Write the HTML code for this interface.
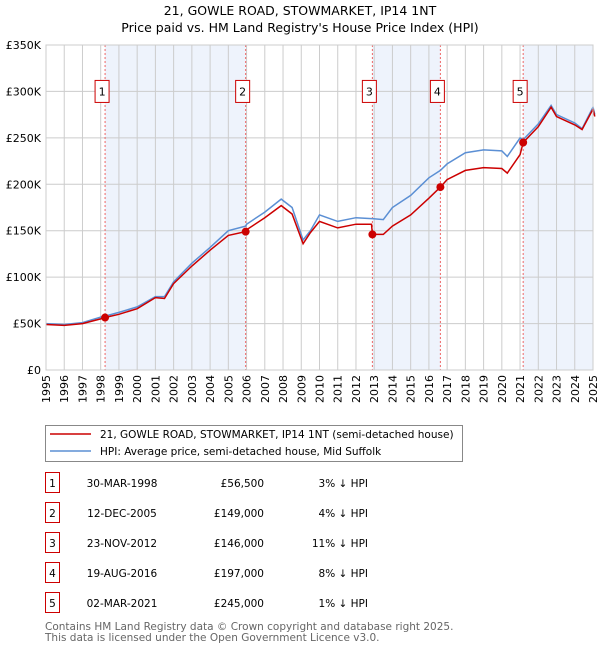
<!DOCTYPE html>
<html><head><meta charset="utf-8"><style>
body{margin:0;background:#fff;font-family:"Liberation Sans","DejaVu Sans",sans-serif;}
svg text{font-family:"DejaVu Sans","Liberation Sans",sans-serif;}
</style></head><body>
<svg width="600" height="650" xmlns="http://www.w3.org/2000/svg">
<text x="300" y="15" text-anchor="middle" font-size="12.5">21, GOWLE ROAD, STOWMARKET, IP14 1NT</text>
<text x="300" y="32" text-anchor="middle" font-size="12.5">Price paid vs. HM Land Registry's House Price Index (HPI)</text>
<g id="plot"></g>
<g>
<rect x="45.5" y="425.5" width="417" height="36" fill="#fff" stroke="#888"/>
<line x1="50" y1="434" x2="91" y2="434" stroke="#cc0000" stroke-width="1.5"/>
<text x="100" y="438" font-size="10.5">21, GOWLE ROAD, STOWMARKET, IP14 1NT (semi-detached house)</text>
<line x1="50" y1="451" x2="91" y2="451" stroke="#5b8fd4" stroke-width="1.5"/>
<text x="100" y="455" font-size="10.5">HPI: Average price, semi-detached house, Mid Suffolk</text>
</g>
<g id="table"></g>
<text x="45" y="630" font-size="10.5" fill="#666">Contains HM Land Registry data © Crown copyright and database right 2025.</text>
<text x="45" y="641" font-size="10.5" fill="#666">This data is licensed under the Open Government Licence v3.0.</text>
</svg>
<script>
const dates=[1995,1996,1997,1998,1998.24,1999,2000,2001,2001.5,2002,2003,2004,2005,2005.95,2006,2007,2007.9,2008.5,2009.1,2009.5,2010,2011,2012,2012.85,2012.9,2013.5,2014,2015,2016,2016.63,2017,2018,2019,2020,2020.3,2021,2021.17,2022,2022.7,2023,2024,2024.4,2025,2025.1];
const hpiValues=[50,49,51,57,58,62,68,79,79,95,115,132,150,155,157,170,184,175,140,150,167,160,164,163,163,162,175,188,207,215,222,234,237,236,230,250,248,265,285,275,266,260,283,275];
const priceValues=[49,48,50,55,56.5,60,66,78,77,93,112,129,145,149,151,164,177,168,136,148,160,153,157,157,146,146,155,167,185,197,205,215,218,217,212,232,245,262,283,273,264,259,281,273];
const saleDates=[1998.24,2005.95,2012.9,2016.63,2021.17];
const salePrices=[56.5,149,146,197,245];
const saleLabels=["1","2","3","4","5"];
const saleDateText=["30-MAR-1998","12-DEC-2005","23-NOV-2012","19-AUG-2016","02-MAR-2021"];
const salePriceText=["£56,500","£149,000","£146,000","£197,000","£245,000"];
const saleHpiText=["3% ↓ HPI","4% ↓ HPI","11% ↓ HPI","8% ↓ HPI","1% ↓ HPI"];
const yTicks=[0,50,100,150,200,250,300,350];
const yTickLabels=["£0","£50K","£100K","£150K","£200K","£250K","£300K","£350K"];
const NS="http://www.w3.org/2000/svg";
const X0=46,X1=593,Y0=370,Y1=45;
const x=d=>X0+(d-1995)/30*(X1-X0);
const y=v=>Y0-v/350*(Y0-Y1);
const plot=document.getElementById('plot');
function mk(tag,attrs,parent){const e=document.createElementNS(NS,tag);for(const k in attrs)e.setAttribute(k,attrs[k]);(parent||plot).appendChild(e);return e;}
const shadePairs=[[0,1],[2,3],[4,null]];
shadePairs.forEach(p=>{const a=x(saleDates[p[0]]),b=p[1]===null?X1:x(saleDates[p[1]]);
const r=mk('rect',{x:a,y:Y1,width:b-a,height:Y0-Y1,fill:'#eef3fc'});

});
for(let yr=1995;yr<=2025;yr++){const l=mk('line',{x1:x(yr),y1:Y1,x2:x(yr),y2:Y0,stroke:'#cccccc','stroke-width':1});


const t=mk('text',{x:0,y:0,'font-size':11,'text-anchor':'end',transform:`translate(${x(yr)+4},${Y0+5}) rotate(-90)`});t.textContent=yr;

}
yTicks.forEach((v,i)=>{const l=mk('line',{x1:X0,y1:y(v),x2:X1,y2:y(v),stroke:'#cccccc','stroke-width':1});


const t=mk('text',{x:X0-5,y:y(v)+4,'font-size':11,'text-anchor':'end'});t.textContent=yTickLabels[i];

});
saleDates.forEach((d,i)=>{const l=mk('line',{x1:x(d),y1:Y1,x2:x(d),y2:Y0,stroke:'#ee6666','stroke-width':1,'stroke-dasharray':'2,2'});


const bx=x(d)-3-7;const r=mk('rect',{x:bx,y:y(300)-11,width:14,height:22,fill:'#fff',stroke:'#cc0000'});


const t=mk('text',{x:bx+7,y:y(300)+4,'font-size':11,'text-anchor':'middle'});t.textContent=saleLabels[i];

});
const pts=a=>dates.map((d,i)=>x(d).toFixed(1)+','+y(a[i]).toFixed(1)).join(' ');
const hl=mk('polyline',{points:pts(hpiValues),fill:'none',stroke:'#5b8fd4','stroke-width':1.5});


const pl=mk('polyline',{points:pts(priceValues),fill:'none',stroke:'#cc0000','stroke-width':1.5});


saleDates.forEach((d,i)=>{const c=mk('circle',{cx:x(d),cy:y(salePrices[i]),r:4,fill:'#cc0000'});

});
const ax=mk('rect',{x:X0,y:Y1,width:X1-X0,height:Y0-Y1,fill:'none',stroke:'#cccccc'});


const tb=document.getElementById('table');
saleLabels.forEach((s,i)=>{const ty=483+i*30;
const r=mk('rect',{x:45.5,y:ty-10.5,width:14,height:20,fill:'#fff',stroke:'#cc0000'},tb);


const cells=[[52.5,'middle',s],[122,'middle',saleDateText[i]],[264,'end',salePriceText[i]],[368,'end',saleHpiText[i]]];
cells.forEach(c=>{const t=mk('text',{x:c[0],y:ty+4,'font-size':10.5,'text-anchor':c[1]},tb);t.textContent=c[2];

});});
</script>
</body></html>
